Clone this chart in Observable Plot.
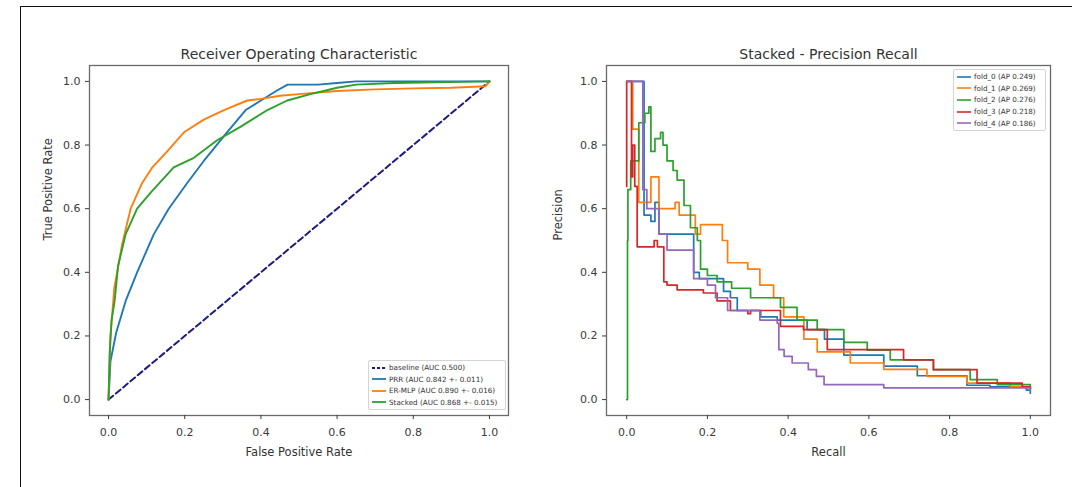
<!DOCTYPE html>
<html>
<head>
<meta charset="utf-8">
<script src="https://cdn.jsdelivr.net/npm/d3@7"></script>
<script src="https://cdn.jsdelivr.net/npm/@observablehq/plot@0.6"></script>
<style>
  html, body { margin: 0; padding: 0; background: #fff; }
  #wrap { position: relative; width: 1072px; height: 487px; overflow: hidden; background: #fff; font-family: "DejaVu Sans", sans-serif; }
  #border { position: absolute; left: 20px; top: 6px; right: -10px; bottom: -10px; border-left: 1.6px solid #111; border-top: 1.6px solid #111; }
  .panel { position: absolute; top: 0; }
  .legend { position: absolute; background: #fff; border: 1px solid #d4d4d4; border-radius: 2px; font-size: 7.2px; color: #333; padding: 1px 3px; box-sizing: border-box; }
  .legend .row { display: flex; align-items: center; white-space: nowrap; }
  .legend svg { margin-right: 3px; flex: none; }
</style>
</head>
<body>
<div id="wrap">
  <div id="border"></div>
  <div id="left" class="panel" style="left:0px"></div>
  <div id="right" class="panel" style="left:540px"></div>
</div>
<script>
// ---------- ROC data ----------
const baselineFpr = [0, 1];
const baselineTpr = [0, 1];

const prrFpr = [0, 0.005, 0.02, 0.045, 0.075, 0.119, 0.158, 0.206, 0.25, 0.311, 0.36, 0.40, 0.44, 0.47, 0.55, 0.60, 0.65, 1.0];
const prrTpr = [0, 0.12, 0.21, 0.31, 0.40, 0.52, 0.60, 0.68, 0.75, 0.84, 0.91, 0.94, 0.97, 0.99, 0.99, 0.995, 1.0, 1.0];

const ermlpFpr = [0, 0.005, 0.015, 0.036, 0.058, 0.088, 0.115, 0.154, 0.198, 0.25, 0.303, 0.364, 0.40, 0.45, 0.50, 0.60, 0.70, 0.80, 0.90, 0.99, 1.0];
const ermlpTpr = [0, 0.20, 0.35, 0.49, 0.60, 0.68, 0.73, 0.78, 0.84, 0.88, 0.91, 0.94, 0.945, 0.955, 0.96, 0.97, 0.975, 0.978, 0.98, 0.985, 1.0];

const stackedFpr = [0, 0.003, 0.008, 0.016, 0.025, 0.045, 0.075, 0.11, 0.171, 0.224, 0.285, 0.346, 0.417, 0.469, 0.53, 0.60, 0.65, 0.75, 1.0];
const stackedTpr = [0, 0.15, 0.25, 0.31, 0.42, 0.52, 0.60, 0.65, 0.73, 0.76, 0.815, 0.857, 0.91, 0.94, 0.96, 0.98, 0.99, 0.995, 1.0];

const rocLabels = ["baseline (AUC 0.500)", "PRR (AUC 0.842 +- 0.011)", "ER-MLP (AUC 0.890 +- 0.016)", "Stacked (AUC 0.868 +- 0.015)"];

// ---------- Precision-Recall data (step curves) ----------
const fold0Recall = [0, 0.043, 0.06, 0.07, 0.08, 0.166, 0.18, 0.24, 0.257, 0.274, 0.332, 0.373, 0.447, 0.49, 0.538, 0.637, 0.72, 0.843, 0.90, 0.99, 1.0];
const fold0Prec   = [1.0, 0.58, 0.56, 0.62, 0.52, 0.40, 0.38, 0.34, 0.32, 0.28, 0.26, 0.25, 0.22, 0.19, 0.14, 0.105, 0.075, 0.045, 0.04, 0.03, 0.02];

const fold1Recall = [0, 0.015, 0.03, 0.06, 0.08, 0.12, 0.13, 0.17, 0.183, 0.237, 0.25, 0.30, 0.33, 0.364, 0.389, 0.439, 0.472, 0.554, 0.637, 0.744, 0.843, 0.95, 1.0];
const fold1Prec   = [1.0, 0.85, 0.62, 0.70, 0.60, 0.62, 0.58, 0.52, 0.55, 0.50, 0.43, 0.41, 0.36, 0.32, 0.26, 0.19, 0.15, 0.115, 0.095, 0.073, 0.052, 0.04, 0.03];

const fold2Recall = [0, 0.002, 0.003, 0.01, 0.03, 0.045, 0.055, 0.06, 0.07, 0.084, 0.09, 0.10, 0.115, 0.125, 0.142, 0.158, 0.175, 0.183, 0.20, 0.224, 0.26, 0.307, 0.381, 0.422, 0.472, 0.538, 0.596, 0.653, 0.76, 0.851, 0.918, 1.0];
const fold2Prec   = [0, 0.50, 0.66, 0.75, 0.87, 0.90, 0.92, 0.78, 0.82, 0.84, 0.80, 0.75, 0.72, 0.69, 0.61, 0.54, 0.50, 0.41, 0.39, 0.37, 0.35, 0.32, 0.29, 0.25, 0.22, 0.18, 0.155, 0.125, 0.094, 0.063, 0.047, 0.035];

const fold3Recall = [0, 0, 0.012, 0.015, 0.02, 0.026, 0.068, 0.076, 0.092, 0.10, 0.125, 0.19, 0.224, 0.257, 0.30, 0.307, 0.381, 0.438, 0.497, 0.686, 0.76, 0.868, 0.98, 1.0];
const fold3Prec   = [0.67, 1.0, 0.70, 0.80, 0.67, 0.48, 0.50, 0.48, 0.37, 0.36, 0.345, 0.335, 0.31, 0.28, 0.27, 0.28, 0.23, 0.22, 0.157, 0.125, 0.094, 0.052, 0.04, 0.035];

const fold4Recall = [0, 0.04, 0.05, 0.08, 0.10, 0.166, 0.20, 0.22, 0.25, 0.33, 0.373, 0.377, 0.39, 0.41, 0.45, 0.47, 0.489, 0.637, 1.0];
const fold4Prec   = [1.0, 0.66, 0.60, 0.52, 0.47, 0.38, 0.36, 0.32, 0.28, 0.25, 0.24, 0.157, 0.136, 0.115, 0.094, 0.073, 0.047, 0.037, 0.03];

const prLabels = ["fold_0 (AP 0.249)", "fold_1 (AP 0.269)", "fold_2 (AP 0.276)", "fold_3 (AP 0.218)", "fold_4 (AP 0.186)"];

const tickValues = [0, 0.2, 0.4, 0.6, 0.8, 1.0];
const tab10 = ["#1f77b4", "#ff7f0e", "#2ca02c", "#d62728", "#9467bd"];

// ---------- helpers ----------
const zip = (xs, ys) => xs.map((x, i) => ({x, y: ys[i]}));
const fmt = d3.format(".1f");
const baseStyle = {fontFamily: "DejaVu Sans, sans-serif", fontSize: "11px", color: "#3a3a3a", background: "transparent", overflow: "visible"};

function axes() {
  return [
    Plot.frame({stroke: "#6a6a6a", strokeWidth: 1.3}),
    Plot.axisX({ticks: tickValues, tickSize: 4, tickPadding: 9, tickFormat: fmt, label: null, fontSize: 11}),
    Plot.axisY({ticks: tickValues, tickSize: 4, tickPadding: 5, tickFormat: fmt, label: null, fontSize: 11})
  ];
}

// ---------- left: ROC ----------
const rocSeries = [
  {data: zip(prrFpr, prrTpr), color: tab10[0]},
  {data: zip(ermlpFpr, ermlpTpr), color: tab10[1]},
  {data: zip(stackedFpr, stackedTpr), color: tab10[2]}
];

const leftPlot = Plot.plot({
  width: 540, height: 487,
  marginLeft: 89, marginRight: 32, marginTop: 65, marginBottom: 72,
  x: {domain: [-0.05, 1.05]},
  y: {domain: [-0.05, 1.05]},
  style: baseStyle,
  marks: [
    ...axes(),
    Plot.line(zip(baselineFpr, baselineTpr), {x: "x", y: "y", stroke: "#1c1c80", strokeWidth: 2, strokeDasharray: "6,3.5"}),
    ...rocSeries.map(s => Plot.line(s.data, {x: "x", y: "y", stroke: s.color, strokeWidth: 1.9})),
    Plot.text(["Receiver Operating Characteristic"], {frameAnchor: "top", dy: -16, fontSize: 14, fill: "#333"}),
    Plot.text(["False Positive Rate"], {frameAnchor: "bottom", dy: 40, fontSize: 11.5, fill: "#333"}),
    Plot.text(["True Positive Rate"], {frameAnchor: "left", dx: -41, rotate: -90, fontSize: 11.5, fill: "#333"})
  ]
});
document.getElementById("left").appendChild(leftPlot);

// ---------- right: Precision-Recall ----------
const prSeries = [
  zip(fold0Recall, fold0Prec),
  zip(fold1Recall, fold1Prec),
  zip(fold2Recall, fold2Prec),
  zip(fold3Recall, fold3Prec),
  zip(fold4Recall, fold4Prec)
];

const rightPlot = Plot.plot({
  width: 532, height: 487,
  marginLeft: 66, marginRight: 22, marginTop: 65, marginBottom: 72,
  x: {domain: [-0.05, 1.05]},
  y: {domain: [-0.05, 1.05]},
  style: baseStyle,
  marks: [
    ...axes(),
    ...prSeries.map((d, i) => Plot.line(d, {x: "x", y: "y", stroke: tab10[i], strokeWidth: 1.7, curve: "step-after"})),
    Plot.text(["Stacked - Precision Recall"], {frameAnchor: "top", dy: -16, fontSize: 14, fill: "#333"}),
    Plot.text(["Recall"], {frameAnchor: "bottom", dy: 40, fontSize: 11.5, fill: "#333"}),
    Plot.text(["Precision"], {frameAnchor: "left", dx: -48, rotate: -90, fontSize: 11.5, fill: "#333"})
  ]
});
document.getElementById("right").appendChild(rightPlot);

// ---------- legends ----------
function legend(items, left, top, width, rowH) {
  const div = document.createElement("div");
  div.className = "legend";
  div.style.left = left + "px";
  div.style.top = top + "px";
  div.style.width = width + "px";
  for (const it of items) {
    const row = document.createElement("div");
    row.className = "row";
    row.style.height = rowH + "px";
    const svg = d3.create("svg").attr("width", 14).attr("height", 6);
    svg.append("line").attr("x1", 0).attr("x2", 14).attr("y1", 3).attr("y2", 3)
      .attr("stroke", it.color).attr("stroke-width", it.width || 1.8)
      .attr("stroke-dasharray", it.dash || null);
    row.appendChild(svg.node());
    const span = document.createElement("span");
    span.textContent = it.label;
    row.appendChild(span);
    div.appendChild(row);
  }
  document.getElementById("wrap").appendChild(div);
}

legend([
  {label: rocLabels[0], color: "#1c1c80", dash: "3,2", width: 2},
  {label: rocLabels[1], color: tab10[0]},
  {label: rocLabels[2], color: tab10[1]},
  {label: rocLabels[3], color: tab10[2]}
], 368, 360, 138, 11.5);

legend(prLabels.map((l, i) => ({label: l, color: tab10[i], width: 1.6})), 953, 69, 93, 11.6);
</script>
</body>
</html>
